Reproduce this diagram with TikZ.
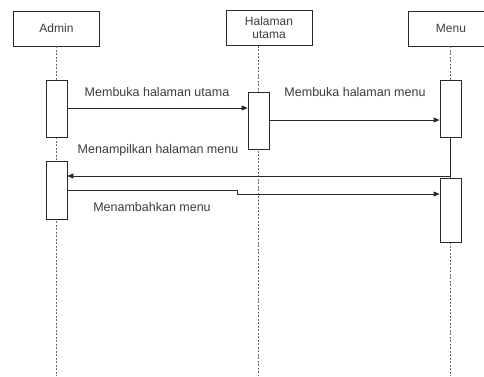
\documentclass[tikz,border=0pt]{standalone}
\usepackage{fontspec}
\setmainfont{Liberation Sans}
\usetikzlibrary{positioning, arrows.meta, calc}
\definecolor{linecolor}{RGB}{40,40,40}
\definecolor{txtcolor}{RGB}{60,60,60}
\definecolor{lifecolor}{RGB}{110,110,110}

\begin{document}
\begin{tikzpicture}[x=1pt, y=-1pt,
    actor/.style={draw=linecolor, line width=0.8pt, minimum width=86pt, minimum height=35pt, inner sep=1pt, align=center, font=\fontsize{12}{13}\selectfont, text=txtcolor},
    act/.style={draw=linecolor, line width=0.8pt, fill=white, minimum width=21pt, inner sep=0pt},
    life/.style={lifecolor, line width=0.8pt, dash pattern=on 2pt off 1.5pt},
    msg/.style={linecolor, line width=0.8pt, -{Triangle[length=6pt, width=5pt]}},
    lbl/.style={font=\fontsize{12.5}{14}\selectfont, text=txtcolor, inner sep=1pt}]
    \clip (0,0) rectangle (484,376);
    \useasboundingbox (0,0) rectangle (484,376);
    \fill[white] (0,0) rectangle (484,376);
    \coordinate (bottom) at (0,376);

    % Acteurs
    \node[actor] (admin) at (56.5,28.5) {Admin};
    \node[actor] (halaman) at (269,28) {Halaman\\utama};
    \node[actor] (menu) at (451,28.5) {Menu};

    % Lignes de vie
    \draw[life] (admin.south) -- (admin.south |- bottom);
    \draw[life] (halaman.south -| 258.5,0) -- (258.5,376);
    \draw[life] (menu.south -| 450.5,0) -- (450.5,376);

    % Activations
    \node[act, minimum height=57pt] (aA1) at (56.5,108.5) {};
    \node[act, minimum height=57pt] (hA1) at (258.5,120.5) {};
    \node[act, minimum height=57pt] (mA1) at (450.5,108.5) {};
    \node[act, minimum height=58pt] (aA2) at (56.5,190) {};
    \node[act, minimum height=64pt] (mA2) at (450.5,210) {};

    % Niveaux des messages
    \coordinate (y1) at (0,108);
    \coordinate (y2) at (0,120);
    \coordinate (y3) at (0,176);
    \coordinate (y4) at (0,190);
    \coordinate (jog) at (237,190);
    \coordinate (y5) at (0,194);

    % Messages
    \draw[msg] (aA1.east |- y1) -- (hA1.west |- y1);
    \node[lbl] (l1) at (157,92) {Membuka halaman utama};

    \draw[msg] (hA1.east |- y2) -- (mA1.west |- y2);
    \node[lbl] (l2) at (355,92) {Membuka halaman menu};

    \draw[msg] (mA1.south) |- (aA2.east |- y3);
    \node[lbl] (l3) at (158,150) {Menampilkan halaman menu};

    \draw[msg] (aA2.east |- y4) -- (jog) -- (jog |- y5) -- (mA2.west |- y5);
    \node[lbl] (l4) at (152,207) {Menambahkan menu};
\end{tikzpicture}
\end{document}
